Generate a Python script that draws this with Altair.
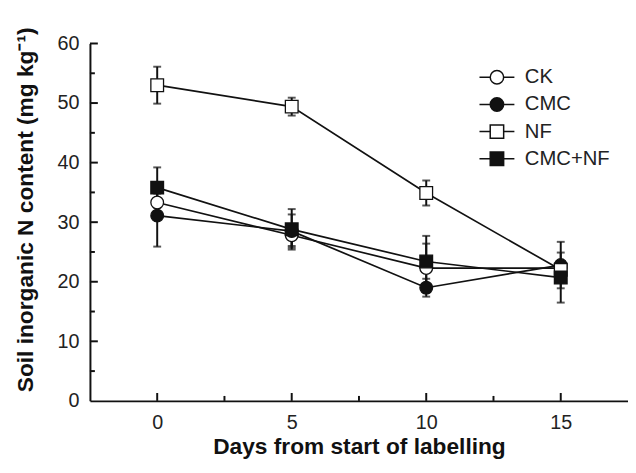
import altair as alt
import pandas as pd

days = [0, 5, 10, 15]
series = ["CK", "CMC", "NF", "CMC+NF"]
ck_mean = [33.3, 27.8, 22.3, 22.3]
ck_err = [1.5, 1.8, 4.1, 1.0]
cmc_mean = [31.1, 28.5, 19.0, 22.8]
cmc_err = [5.2, 2.8, 1.5, 3.9]
nf_mean = [53.0, 49.4, 34.9, 22.0]
nf_err = [3.1, 1.5, 2.1, 1.0]
cmcnf_mean = [35.8, 28.8, 23.4, 20.7]
cmcnf_err = [3.4, 3.4, 4.3, 4.2]

x_major = [0, 5, 10, 15]
x_minor = [2.5, 7.5, 12.5]
y_major = [10, 20, 30, 40, 50, 60]
y_minor = [5, 15, 25, 35, 45, 55]

means = [ck_mean, cmc_mean, nf_mean, cmcnf_mean]
errs = [ck_err, cmc_err, nf_err, cmcnf_err]
rows = []
for name, m, e in zip(series, means, errs):
    for d, v, s in zip(days, m, e):
        rows.append(dict(day=d, series=name, value=v, lo=v - s, hi=v + s))
df = pd.DataFrame(rows)

W, H = 545, 362
INK = "#111111"
FONT = "Liberation Sans"

xscale = alt.Scale(domain=[-2.5, 17.5], nice=False, zero=False)
yscale = alt.Scale(domain=[0, 60], nice=False, zero=False)
xaxis = alt.Axis(values=x_major, title="Days from start of labelling",
                 tickSize=0, labelPadding=12, titleY=35,
                 domainWidth=2, domainColor=INK, grid=False)
yaxis = alt.Axis(values=[0] + y_major, title="Soil inorganic N content (mg kg⁻¹)",
                 tickSize=0, labelPadding=11, titleX=-53, titleY=168,
                 domainWidth=2, domainColor=INK, grid=False)


def X(f):
    return alt.X(f, scale=xscale, axis=xaxis)


def Y(f):
    return alt.Y(f, scale=yscale, axis=yaxis)


base = alt.Chart(df)

# error bars
err_rule = base.mark_rule(color=INK, strokeWidth=2).encode(
    x=X("day:Q"), y=Y("lo:Q"), y2="hi:Q",
)
cap_lo = base.mark_tick(color=INK, size=8, thickness=2, orient="horizontal").encode(
    x=X("day:Q"), y=Y("lo:Q"),
)
cap_hi = base.mark_tick(color=INK, size=8, thickness=2, orient="horizontal").encode(
    x=X("day:Q"), y=Y("hi:Q"),
)

lines = base.mark_line(color=INK, strokeWidth=1.7).encode(
    x=X("day:Q"), y=Y("value:Q"), detail="series:N",
)

points = base.mark_point(filled=True, stroke=INK, strokeWidth=1.3, opacity=1).encode(
    x=X("day:Q"), y=Y("value:Q"),
    shape=alt.Shape("series:N", scale=alt.Scale(domain=series, range=["circle", "circle", "square", "square"]), legend=None),
    fill=alt.Fill("series:N", scale=alt.Scale(domain=series, range=["white", INK, "white", INK]), legend=None),
    size=alt.Size("series:N", scale=alt.Scale(domain=series, range=[165, 165, 195, 195]), legend=None),
)

circ = "M-2.6,0H-1M1,0H2.6M-1,0A1,1 0 1,0 1,0A1,1 0 1,0 -1,0Z"
sq = "M-2.6,0H-1M1,0H2.6M-1,-1H1V1H-1Z"
leg = alt.Legend(title=None, orient="none", legendX=402, legendY=24,
                 symbolSize=185, symbolStrokeWidth=1.5, symbolStrokeColor=INK,
                 labelFont=FONT, labelFontSize=20.5, labelColor="#222222",
                 labelOffset=18, rowPadding=6.5, padding=0)
legend_layer = base.transform_filter("false").mark_point(filled=True, strokeWidth=1.5, opacity=1).encode(
    x=X("day:Q"), y=Y("value:Q"),
    shape=alt.Shape("series:N", scale=alt.Scale(domain=series, range=[circ, circ, sq, sq]), legend=leg),
    fill=alt.Fill("series:N", scale=alt.Scale(domain=series, range=["white", INK, "white", INK]), legend=leg),
    stroke=alt.Stroke("series:N", scale=alt.Scale(domain=series, range=[INK, INK, INK, INK]), legend=leg),
)

# inward ticks
xt_major = alt.Chart(pd.DataFrame({"t": x_major})).mark_rule(color=INK, strokeWidth=2).encode(
    x=X("t:Q"), y=alt.value(H), y2=alt.value(H - 8))
xt_minor = alt.Chart(pd.DataFrame({"t": x_minor})).mark_rule(color=INK, strokeWidth=2).encode(
    x=X("t:Q"), y=alt.value(H), y2=alt.value(H - 5))
yt_major = alt.Chart(pd.DataFrame({"t": y_major})).mark_rule(color=INK, strokeWidth=2).encode(
    y=Y("t:Q"), x=alt.value(0), x2=alt.value(8))
yt_minor = alt.Chart(pd.DataFrame({"t": y_minor})).mark_rule(color=INK, strokeWidth=2).encode(
    y=Y("t:Q"), x=alt.value(0), x2=alt.value(5))

chart = alt.layer(
    lines, err_rule, cap_lo, cap_hi, points, legend_layer,
    xt_major, xt_minor, yt_major, yt_minor,
).resolve_scale(
    shape="independent", fill="independent", size="independent", stroke="independent"
).properties(
    width=W, height=H,
    autosize=alt.AutoSizeParams(type="none"),
    padding={"left": 83, "top": 33, "right": 0, "bottom": 62},
).configure_view(stroke=None).configure_axis(
    labelFont=FONT, labelFontSize=20, labelColor="#222222",
    titleFont=FONT, titleFontSize=23, titleFontWeight="bold", titleColor="#111111",
)

chart.save("out.html", embed_options={"renderer": "svg", "actions": False})
